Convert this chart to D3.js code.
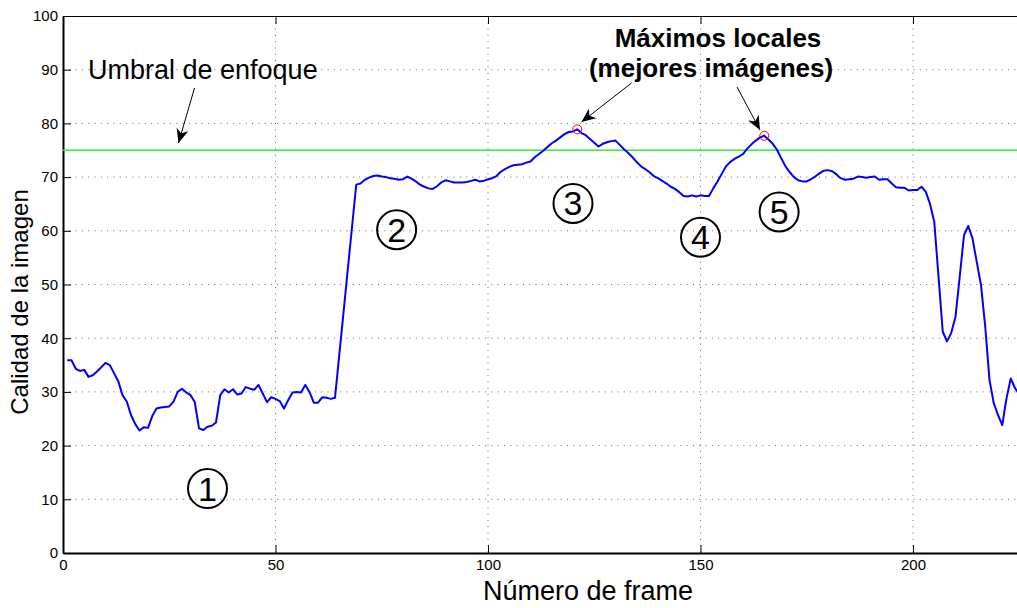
<!DOCTYPE html>
<html><head><meta charset="utf-8">
<script src="https://cdn.jsdelivr.net/npm/d3@7"></script>
<style>body{margin:0;background:#fff}svg{display:block}text{font-family:"Liberation Sans",Arial,Helvetica,sans-serif}</style>
</head><body>
<svg id="chart" width="1017" height="608"></svg>
<script>
const frames = [1,2,3,4,5,6,7,8,9,10,11,12,13,14,15,16,17,18,19,20,21,22,23,24,25,26,27,28,29,30,31,32,33,34,35,36,37,38,39,40,41,42,43,44,45,46,47,48,49,50,51,52,53,54,55,56,57,58,59,60,61,62,63,64,69,70,71,72,73,74,75,76,77,78,79,80,81,82,83,84,85,86,87,88,89,90,91,92,93,94,95,96,97,98,99,100,101,102,103,104,105,106,107,108,109,110,111,112,113,114,115,116,117,118,119,120,121,122,123,124,125,126,127,128,129,130,131,132,133,134,135,136,137,138,139,140,141,142,143,144,145,146,147,148,149,150,151,152,153,154,155,156,157,158,159,160,161,162,163,164,165,166,167,168,169,170,171,172,173,174,175,176,177,178,179,180,181,182,183,184,185,186,187,188,189,190,191,192,193,194,195,196,197,198,199,200,201,202,203,204,205,206,207,208,209,210,211,212,213,214,215,216,217,218,219,220,221,222,223,224,225];
const quality = [35.9,35.9,34.3,33.9,34.1,32.8,33.1,33.8,34.6,35.4,35.0,33.5,32.0,29.4,28.2,25.7,24.0,22.8,23.4,23.3,25.5,26.9,27.1,27.2,27.3,28.2,30.0,30.6,29.9,29.4,28.1,23.2,22.9,23.5,23.7,24.3,29.4,30.5,29.9,30.5,29.5,29.7,30.9,30.6,30.4,31.3,29.7,28.1,29.0,28.7,28.3,26.9,28.5,29.9,30.0,29.9,31.3,30.0,28.0,28.0,29.0,28.9,28.7,28.9,
68.6,68.8,69.5,69.9,70.2,70.3,70.1,70.0,69.8,69.7,69.5,69.6,70.1,69.7,69.2,68.6,68.2,67.9,67.8,68.3,69.0,69.4,69.2,69.0,69.0,69.0,69.1,69.3,69.5,69.2,69.3,69.6,69.8,70.2,71.0,71.5,71.9,72.2,72.3,72.4,72.7,72.9,73.7,74.3,74.9,75.6,76.3,76.8,77.4,78.0,78.4,78.5,78.9,78.2,77.8,77.1,76.4,75.7,76.2,76.5,76.7,76.8,76.0,75.2,74.5,73.7,72.8,72.0,71.5,70.9,70.2,69.8,69.3,68.8,68.2,67.8,67.2,66.5,66.4,66.6,66.4,66.6,66.5,66.5,67.9,69.2,70.6,72.0,72.8,73.4,73.8,74.3,75.3,76.1,76.8,77.4,77.7,77.0,76.2,75.1,73.5,72.0,70.9,70.0,69.4,69.2,69.2,69.6,70.1,70.7,71.2,71.3,71.1,70.5,69.8,69.5,69.6,69.7,70.1,70.0,69.9,70.0,70.1,69.5,69.6,69.6,68.8,68.1,68.0,68.0,67.5,67.6,67.6,68.2,67.3,65.0,61.7,51.5,41.2,39.4,41.0,44.0,51.5,59.2,60.9,58.6,54.2,49.9,42.1,32.2,27.9,25.7,23.8,28.8,32.5,30.7,29.6];
const threshold = 75;
const peakFrames = [121, 165];
const peakValues = [78.9, 77.7];
const xTicks = [0, 50, 100, 150, 200];
const yTicks = [0,10,20,30,40,50,60,70,80,90,100];
const regionLabels = ["1","2","3","4","5"];
const regionFrames = [34, 78.5, 120, 150, 168.5];
const regionValues = [12, 60.2, 65.1, 58.8, 63.5];

const svg = d3.select("#chart");
const L = 63, T = 16, B = 553, R = 63 + 225*4.25;
const x = d3.scaleLinear().domain([0, 225]).range([L, R]);
const y = d3.scaleLinear().domain([0, 100]).range([B, T]);

const defs = svg.append("defs");
defs.append("clipPath").attr("id","clip")
  .append("rect").attr("x",L).attr("y",T).attr("width",R-L).attr("height",B-T);
defs.append("marker").attr("id","arr").attr("viewBox","0 0 14 12").attr("refX",14).attr("refY",6)
  .attr("markerWidth",14).attr("markerHeight",12).attr("markerUnits","userSpaceOnUse").attr("orient","auto")
  .append("path").attr("d","M0,0 L14,6 L0,12 L4,6 Z").attr("fill","#000");

// grid
const grid = svg.append("g").attr("stroke","#444").attr("stroke-width",0.8).attr("stroke-dasharray","1,5.3");
xTicks.filter(d=>d>0).forEach(d=>grid.append("line").attr("x1",x(d)).attr("x2",x(d)).attr("y1",T).attr("y2",B));
yTicks.filter(d=>d>0&&d<100).forEach(d=>grid.append("line").attr("x1",L).attr("x2",R).attr("y1",y(d)).attr("y2",y(d)));

// axes
const xAxis = d3.axisBottom(x).tickValues(xTicks).tickSizeInner(-8).tickSizeOuter(0).tickPadding(5);
const gx = svg.append("g").attr("transform",`translate(0,${B})`).call(xAxis);
const yAxis = d3.axisLeft(y).tickValues(yTicks).tickSizeInner(-8).tickSizeOuter(0).tickPadding(5);
const gy = svg.append("g").attr("transform",`translate(${L},0)`).call(yAxis);
[gx, gy].forEach(g=>{
  g.selectAll("text").attr("font-size",15).attr("fill","#000").attr("font-family","Liberation Sans, Arial, sans-serif");
  g.selectAll("line").attr("stroke","#000");
  g.select(".domain").attr("stroke","#000").attr("stroke-width",2);
});
gx.selectAll("text").attr("y",6).attr("dy","0.71em");
// top ticks
const xTop = d3.axisTop(x).tickValues(xTicks).tickSizeInner(-8).tickSizeOuter(0).tickFormat("");
const gt = svg.append("g").attr("transform",`translate(0,${T})`).call(xTop);
gt.select(".domain").attr("stroke","#000").attr("stroke-width",1.2);
gt.selectAll("line").attr("stroke","#000");

// threshold
svg.append("line").attr("x1",L).attr("x2",R).attr("y1",y(threshold)).attr("y2",y(threshold))
  .attr("stroke","#33ee33").attr("stroke-width",1.6).attr("clip-path","url(#clip)");

// quality line
const pts = frames.map((f,i)=>[f, quality[i]]);
svg.append("path").datum(pts).attr("clip-path","url(#clip)")
  .attr("d", d3.line().x(d=>x(d[0])).y(d=>y(d[1])))
  .attr("fill","none").attr("stroke","#0000ff").attr("stroke-width",2).attr("stroke-linejoin","round");

// peaks
peakFrames.forEach((f,i)=>svg.append("circle").attr("cx",x(f)).attr("cy",y(peakValues[i])).attr("r",4.5)
  .attr("fill","none").attr("stroke","#ff0000").attr("stroke-width",1));

// region labels
regionLabels.forEach((t,i)=>{
  const cx = x(regionFrames[i]), cy = y(regionValues[i]);
  svg.append("circle").attr("cx",cx).attr("cy",cy).attr("r",19.5).attr("fill","none").attr("stroke","#000").attr("stroke-width",2);
  svg.append("text").attr("x",cx).attr("y",cy+12).attr("text-anchor","middle").attr("font-size",34).text(t);
});

// annotations
svg.append("text").attr("x",88).attr("y",79).attr("font-size",27).text("Umbral de enfoque");
svg.append("line").attr("x1",194.5).attr("y1",88).attr("x2",178.5).attr("y2",143).attr("stroke","#000").attr("stroke-width",1).attr("marker-end","url(#arr)");
svg.append("text").attr("x",718).attr("y",47).attr("font-size",26).attr("font-weight","bold").attr("text-anchor","middle").text("Máximos locales");
svg.append("text").attr("x",711).attr("y",77).attr("font-size",26).attr("font-weight","bold").attr("text-anchor","middle").text("(mejores imágenes)");
svg.append("line").attr("x1",631.5).attr("y1",83).attr("x2",581.5).attr("y2",122).attr("stroke","#000").attr("stroke-width",1).attr("marker-end","url(#arr)");
svg.append("line").attr("x1",737).attr("y1",87).attr("x2",760).attr("y2",130).attr("stroke","#000").attr("stroke-width",1).attr("marker-end","url(#arr)");

// axis titles
svg.append("text").attr("x",588).attr("y",600).attr("font-size",27).attr("text-anchor","middle").text("Número de frame");
svg.append("text").attr("transform","translate(28,302) rotate(-90)").attr("font-size",24).attr("text-anchor","middle").text("Calidad de la imagen");
</script>
</body></html>
